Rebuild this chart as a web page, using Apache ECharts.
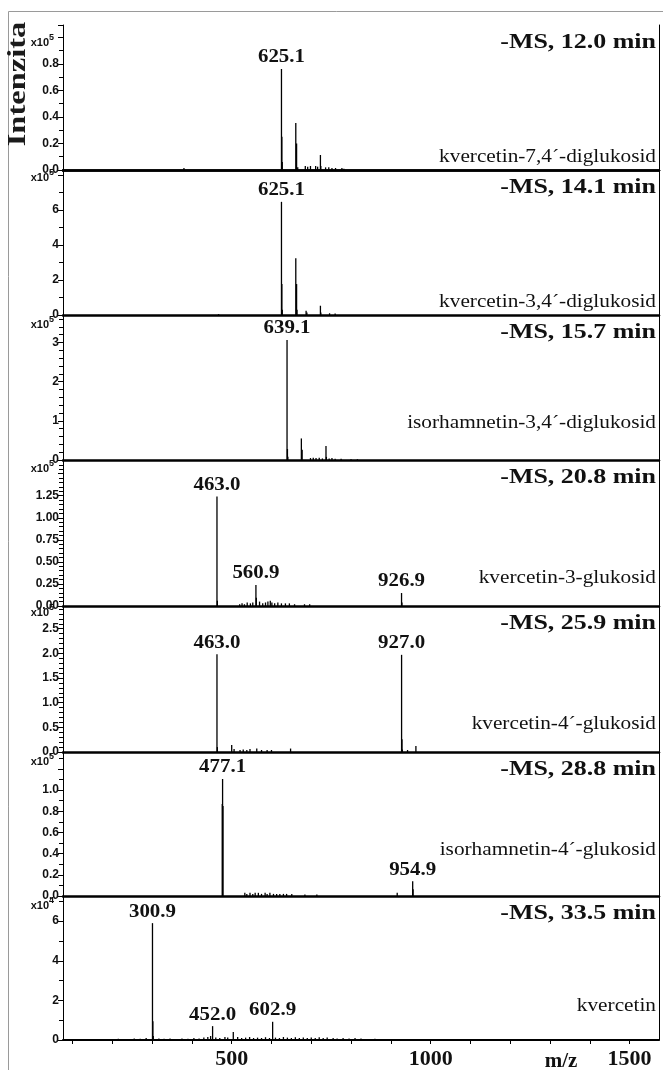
<!DOCTYPE html>
<html>
<head>
<meta charset="utf-8">
<script src="https://cdn.jsdelivr.net/npm/echarts@6/dist/echarts.min.js"></script>
<style>
  html, body { margin: 0; padding: 0; background: #fff; }
  #chart { width: 663px; height: 1070px; }
</style>
</head>
<body>
<div id="chart"></div>
<script>
// ---- m/z axis ----
const mzMin = 76;
const mzMax = 1574;
const mzTicks = [100, 200, 300, 400, 500, 600, 700, 800, 900, 1000, 1100, 1200, 1300, 1400, 1500];
const mzLabels = [500, 1000, 1500];

// ---- panel captions ----
const runTitles = ['-MS, 12.0 min', '-MS, 14.1 min', '-MS, 15.7 min', '-MS, 20.8 min',
                   '-MS, 25.9 min', '-MS, 28.8 min', '-MS, 33.5 min'];
const compounds = ['kvercetin-7,4´-diglukosid', 'kvercetin-3,4´-diglukosid',
                   'isorhamnetin-3,4´-diglukosid', 'kvercetin-3-glukosid',
                   'kvercetin-4´-glukosid', 'isorhamnetin-4´-glukosid', 'kvercetin'];
const exponents = [5, 5, 5, 5, 5, 5, 4];

// ---- intensity axes (in units of 10^exponent) ----
const yMax = [1.094, 8.29, 3.70, 1.655, 2.96, 1.36, 7.27];
const yStep = [0.2, 2, 1, 0.25, 0.5, 0.2, 2];
const yMinorSplit = [2, 2, 5, 5, 5, 2, 2];
const yLastLabel = [0.8, 6, 3, 1.25, 2.5, 1.0, 6];
const yDecimals = [1, 0, 0, 2, 1, 1, 0];

// ---- labelled peaks [m/z, intensity] ----
const peaks1 = [[625.1, 0.762]];
const peaks2 = [[625.1, 6.47]];
const peaks3 = [[639.1, 3.06]];
const peaks4 = [[463.0, 1.24], [560.9, 0.238], [926.9, 0.147]];
const peaks5 = [[463.0, 1.98], [927.0, 1.97]];
const peaks6 = [[477.1, 1.105], [954.9, 0.14]];
const peaks7 = [[300.9, 5.9], [452.0, 0.70], [602.9, 0.92]];

// ---- other ions [m/z, intensity] ----
const ions1 = [[380, 0.015], [626.1, 0.25], [627.1, 0.06], [661.1, 0.355], [663.1, 0.20],
  [666, 0.02], [685, 0.03], [691, 0.025], [698, 0.03], [711, 0.03], [716, 0.025],
  [723, 0.113], [724, 0.03], [736, 0.02], [744, 0.02], [752, 0.015], [761, 0.015],
  [777, 0.015], [782, 0.01]];
const ions2 = [[467, 0.05], [626.1, 1.77], [627.1, 0.3], [661.1, 3.24], [663.1, 1.77],
  [664.1, 0.3], [687, 0.25], [689, 0.15], [723, 0.53], [724, 0.15], [746, 0.1], [760, 0.08]];
const ions3 = [[640.1, 0.28], [641.1, 0.08], [675.1, 0.55], [677.1, 0.26], [698, 0.05],
  [705, 0.06], [712, 0.05], [720, 0.06], [728, 0.04], [737, 0.36], [738, 0.08],
  [745, 0.04], [752, 0.05], [760, 0.03], [775, 0.03], [800, 0.02], [816, 0.02]];
const ions4 = [[464.0, 0.06], [520, 0.02], [526, 0.03], [532, 0.02], [539, 0.04],
  [547, 0.03], [553, 0.04], [561.9, 0.094], [570, 0.05], [578, 0.03], [585, 0.04],
  [591, 0.05], [597, 0.06], [601, 0.04], [608, 0.03], [616, 0.04], [625, 0.03],
  [635, 0.03], [645, 0.03], [658, 0.02], [683, 0.02], [696, 0.02], [927.9, 0.04]];
const ions5 = [[464.0, 0.1], [500, 0.14], [506, 0.06], [521, 0.04], [529, 0.05],
  [538, 0.04], [546, 0.06], [563, 0.07], [575, 0.04], [589, 0.04], [600, 0.04],
  [648, 0.07], [928.0, 0.26], [929, 0.05], [942, 0.04], [963, 0.12]];
const ions6 = [[476.3, 0.87], [478.1, 0.85], [533, 0.03], [538, 0.02], [546, 0.03],
  [553, 0.02], [559, 0.03], [567, 0.03], [575, 0.02], [584, 0.03], [589, 0.02],
  [596, 0.03], [605, 0.02], [613, 0.02], [621, 0.02], [630, 0.02], [638, 0.02],
  [651, 0.02], [684, 0.015], [714, 0.015], [916, 0.03], [955.9, 0.063]];
const ions7 = [[301.9, 0.95], [302.9, 0.2], [504, 0.4], [150, 0.05], [180, 0.04],
  [215, 0.06], [240, 0.05], [255, 0.08], [270, 0.06], [285, 0.1], [317, 0.08],
  [330, 0.06], [345, 0.07], [360, 0.05], [375, 0.08], [390, 0.06], [405, 0.1],
  [418, 0.08], [430, 0.12], [440, 0.15], [447, 0.2], [460, 0.12], [470, 0.1],
  [483, 0.15], [490, 0.12], [515, 0.15], [525, 0.1], [535, 0.12], [545, 0.15],
  [555, 0.1], [565, 0.12], [575, 0.1], [585, 0.14], [595, 0.1], [610, 0.12],
  [620, 0.1], [630, 0.15], [640, 0.12], [650, 0.1], [660, 0.14], [670, 0.1],
  [680, 0.12], [690, 0.1], [700, 0.12], [710, 0.1], [720, 0.14], [730, 0.1],
  [740, 0.12], [755, 0.1], [765, 0.08], [780, 0.1], [795, 0.08], [810, 0.1],
  [825, 0.07], [840, 0.05], [860, 0.06], [880, 0.05], [905, 0.04], [930, 0.05],
  [960, 0.04], [990, 0.03]];

const labelledPeaks = [peaks1, peaks2, peaks3, peaks4, peaks5, peaks6, peaks7];
const otherIons = [ions1, ions2, ions3, ions4, ions5, ions6, ions7];

// ---- layout ----
const panelTop = [25, 170, 315, 460, 606, 752, 896];
const panelBottom = [170, 315, 460, 606, 752, 896, 1043];
const plotLeft = 63, plotRight = 659, W = 663;
const expLabelY = [43, 178, 325, 469, 613, 762, 906];
const compoundY = [157, 302, 423, 578, 724, 850, 1006];

const serif = '"Liberation Serif", "Times New Roman", serif';
const sans = '"Liberation Sans", Arial, sans-serif';

function renderStick(params, api) {
  const mz = api.value(0), v = api.value(1), labelled = api.value(2);
  const p0 = api.coord([mz, 0]);
  const p1 = api.coord([mz, v]);
  const children = [{
    type: 'line',
    shape: { x1: p0[0], y1: p0[1], x2: p1[0], y2: p1[1] },
    style: { stroke: '#000', lineWidth: 1.3 }
  }];
  if (labelled) {
    children.push({
      type: 'text', x: p1[0], y: p1[1] - 2, scaleX: 1.1,
      style: { text: mz.toFixed(1), align: 'center', verticalAlign: 'bottom',
               font: 'bold 19px ' + serif, fill: '#111' }
    });
  }
  return { type: 'group', children };
}

const grid = [], xAxis = [], yAxis = [], series = [], graphic = [];

for (let i = 0; i < 7; i++) {
  grid.push({ left: plotLeft, right: W - plotRight, top: panelTop[i],
              height: panelBottom[i] - panelTop[i] });
  const last = i === 6;
  xAxis.push({
    type: 'value', gridIndex: i, min: mzMin, max: mzMax, position: 'bottom',
    axisLine: { show: true, lineStyle: { color: '#000', width: last ? 2 : 2.5 } },
    axisTick: last ? { show: true, customValues: mzTicks, length: 4, lineStyle: { color: '#000', width: 1 } } : { show: false },
    axisLabel: last ? { show: true, customValues: mzLabels, margin: 8, color: '#111',
                        fontFamily: serif, fontWeight: 'bold', fontSize: 22,
                        formatter: v => String(v) } : { show: false },
    splitLine: { show: false }
  });
  const dec = yDecimals[i], lim = yLastLabel[i];
  yAxis.push({
    type: 'value', gridIndex: i, min: 0, max: yMax[i], interval: yStep[i], position: 'left',
    axisLine: { show: true, lineStyle: { color: '#000', width: 1 } },
    axisTick: { show: true, length: 5, lineStyle: { color: '#000', width: 1 } },
    minorTick: { show: true, splitNumber: yMinorSplit[i], length: 4, lineStyle: { color: '#000', width: 1 } },
    splitLine: { show: false },
    axisLabel: {
      margin: 4, color: '#111', fontFamily: sans, fontWeight: 'bold', fontSize: 12,
      showMaxLabel: false,
      formatter: v => (v > lim + 1e-9 ? '' : v.toFixed(dec))
    }
  });
  yAxis.push({
    type: 'value', gridIndex: i, min: 0, max: yMax[i], position: 'right',
    axisLine: { show: true, lineStyle: { color: '#000', width: 1 } },
    axisTick: { show: false }, axisLabel: { show: false }, splitLine: { show: false }
  });
  const data = labelledPeaks[i].map(p => [p[0], p[1], 1])
    .concat(otherIons[i].map(p => [p[0], p[1], 0]));
  series.push({
    type: 'custom', xAxisIndex: i, yAxisIndex: 2 * i,
    renderItem: renderStick, encode: { x: 0, y: 1 }, data, silent: true
  });

  graphic.push({ type: 'text', x: 656, y: panelTop[i] + 17, scaleX: 1.18,
    style: { text: runTitles[i], align: 'right', verticalAlign: 'middle',
             font: 'bold 22px ' + serif, fill: '#111' } });
  graphic.push({ type: 'text', x: 656, y: compoundY[i], scaleX: 1.12,
    style: { text: compounds[i], align: 'right', verticalAlign: 'middle',
             font: '19px ' + serif, fill: '#111' } });
  graphic.push({ type: 'text', x: 49, y: expLabelY[i],
    style: { text: 'x10', align: 'right', verticalAlign: 'middle',
             font: 'bold 11px ' + sans, fill: '#111' } });
  graphic.push({ type: 'text', x: 49, y: expLabelY[i] - 5,
    style: { text: String(exponents[i]), align: 'left', verticalAlign: 'middle',
             font: 'bold 9px ' + sans, fill: '#111' } });
}

// frame line across the top of the first panel
xAxis.push({
  type: 'value', gridIndex: 0, min: mzMin, max: mzMax, position: 'top',
  axisLine: { show: true, lineStyle: { color: '#000', width: 2.5 } },
  axisTick: { show: false }, axisLabel: { show: false }, splitLine: { show: false }
});

// outer figure border
graphic.push({ type: 'rect', shape: { x: 8.5, y: 11.5, width: 720, height: 1100 },
  style: { fill: 'none', stroke: '#9a9a9a', lineWidth: 1 }, z: -1 });

// axis titles
graphic.push({ type: 'text', x: 18, y: 84, rotation: Math.PI / 2, scaleX: 1.25,
  style: { text: 'Intenzita', align: 'center', verticalAlign: 'middle',
           font: 'bold 26px ' + serif, fill: '#1b1b1b' } });
graphic.push({ type: 'text', x: 561, y: 1062,
  style: { text: 'm/z', align: 'center', verticalAlign: 'middle',
           font: 'bold 21px ' + serif, fill: '#111' } });

const chart = echarts.init(document.getElementById('chart'), null, { renderer: 'canvas' });
chart.setOption({
  animation: false,
  backgroundColor: '#fff',
  grid, xAxis, yAxis, series, graphic
});
</script>
</body>
</html>
